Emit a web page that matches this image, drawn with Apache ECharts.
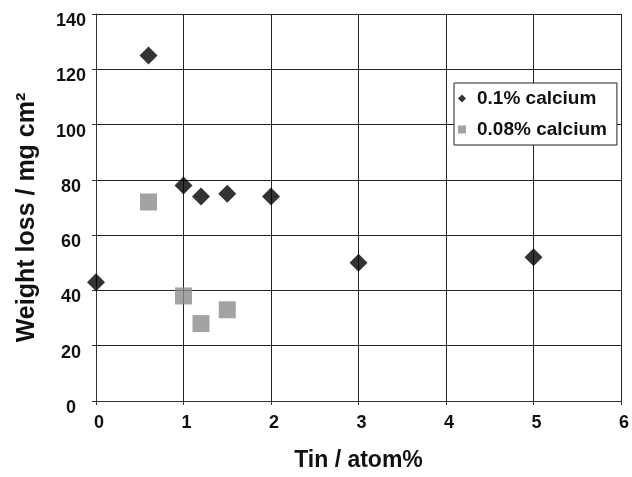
<!DOCTYPE html>
<html>
<head>
<meta charset="utf-8">
<script src="https://cdn.jsdelivr.net/npm/echarts@6/dist/echarts.min.js"></script>
<style>
  html, body { margin: 0; padding: 0; background: #fff; }
  #chart { width: 632px; height: 477px; }
</style>
</head>
<body>
<div id="chart"></div>
<script>
// 0.1% calcium
const tinHigh = [0, 0.6, 1, 1.2, 1.5, 2, 3, 5]
const lossHigh = [43, 125, 78, 74, 75, 74, 50, 52]
// 0.08% calcium
const tinLow = [0.6, 1, 1.2, 1.5]
const lossLow = [72, 38, 28, 33]

const xTicks = [0, 1, 2, 3, 4, 5, 6]
const yTicks = [0, 20, 40, 60, 80, 100, 120, 140]

const pairs = (xs, ys) => xs.map((x, i) => [x, ys[i]])
const font = '"Liberation Sans", Arial, sans-serif'

const chart = echarts.init(document.getElementById('chart'), null, { renderer: 'canvas' })
chart.setOption({
  animation: false,
  grid: { left: 96, right: 8, top: 14, bottom: 69 },
  legend: {
    orient: 'vertical',
    left: 454, top: 83,
    width: 162,
    padding: [6, 10, 6, 4],
    itemGap: 12,
    itemWidth: 8, itemHeight: 8,
    backgroundColor: '#fff',
    borderColor: '#222', borderWidth: 1,
    textStyle: { fontFamily: font, fontWeight: 'bold', fontSize: 19, color: '#111', padding: [4, 0, 0, 6] },
    data: [
      { name: '0.1% calcium', icon: 'diamond', itemStyle: { color: '#000' } },
      { name: '0.08% calcium', icon: 'rect', itemStyle: { color: '#8c8c8c' } }
    ]
  },
  xAxis: {
    type: 'value', min: 0, max: 6, interval: 1,
    name: 'Tin / atom%', nameLocation: 'middle', nameGap: 48,
    nameTextStyle: { fontFamily: font, fontWeight: 'bold', fontSize: 23, color: '#111' },
    axisLine: { lineStyle: { color: '#333', width: 1 } },
    axisTick: { show: true, length: 4, lineStyle: { color: '#333' } },
    axisLabel: { fontFamily: font, fontWeight: 'bold', fontSize: 18, color: '#111', margin: 13,
      padding: [0, 0, 0, 6], showMaxLabel: true,
      formatter: v => xTicks.includes(v) ? String(v) : '' },
    splitLine: { show: true, lineStyle: { color: '#222', width: 1 } }
  },
  yAxis: {
    type: 'value', min: 0, max: 140, interval: 20,
    name: 'Weight loss / mg cm²', nameLocation: 'middle', nameGap: 56,
    nameTextStyle: { fontFamily: font, fontWeight: 'bold', fontSize: 25, color: '#111', padding: [0, 20, 0, 0] },
    axisLine: { show: true, lineStyle: { color: '#333', width: 1 } },
    axisTick: { show: true, length: 4, lineStyle: { color: '#333' } },
    axisLabel: { fontFamily: font, fontWeight: 'bold', fontSize: 18, color: '#111', margin: 25,
      align: 'center', verticalAlign: 'top', lineHeight: 14, showMaxLabel: true,
      formatter: v => yTicks.includes(v) ? String(v) : '' },
    splitLine: { show: true, lineStyle: { color: '#222', width: 1 } }
  },
  series: [
    {
      name: '0.1% calcium', type: 'scatter', symbol: 'diamond', symbolSize: 18,
      itemStyle: { color: '#000' }, z: 3,
      data: pairs(tinHigh, lossHigh)
    },
    {
      name: '0.08% calcium', type: 'scatter', symbol: 'rect', symbolSize: 17,
      itemStyle: { color: '#8c8c8c' }, z: 2,
      data: pairs(tinLow, lossLow)
    }
  ]
})
</script>
</body>
</html>
